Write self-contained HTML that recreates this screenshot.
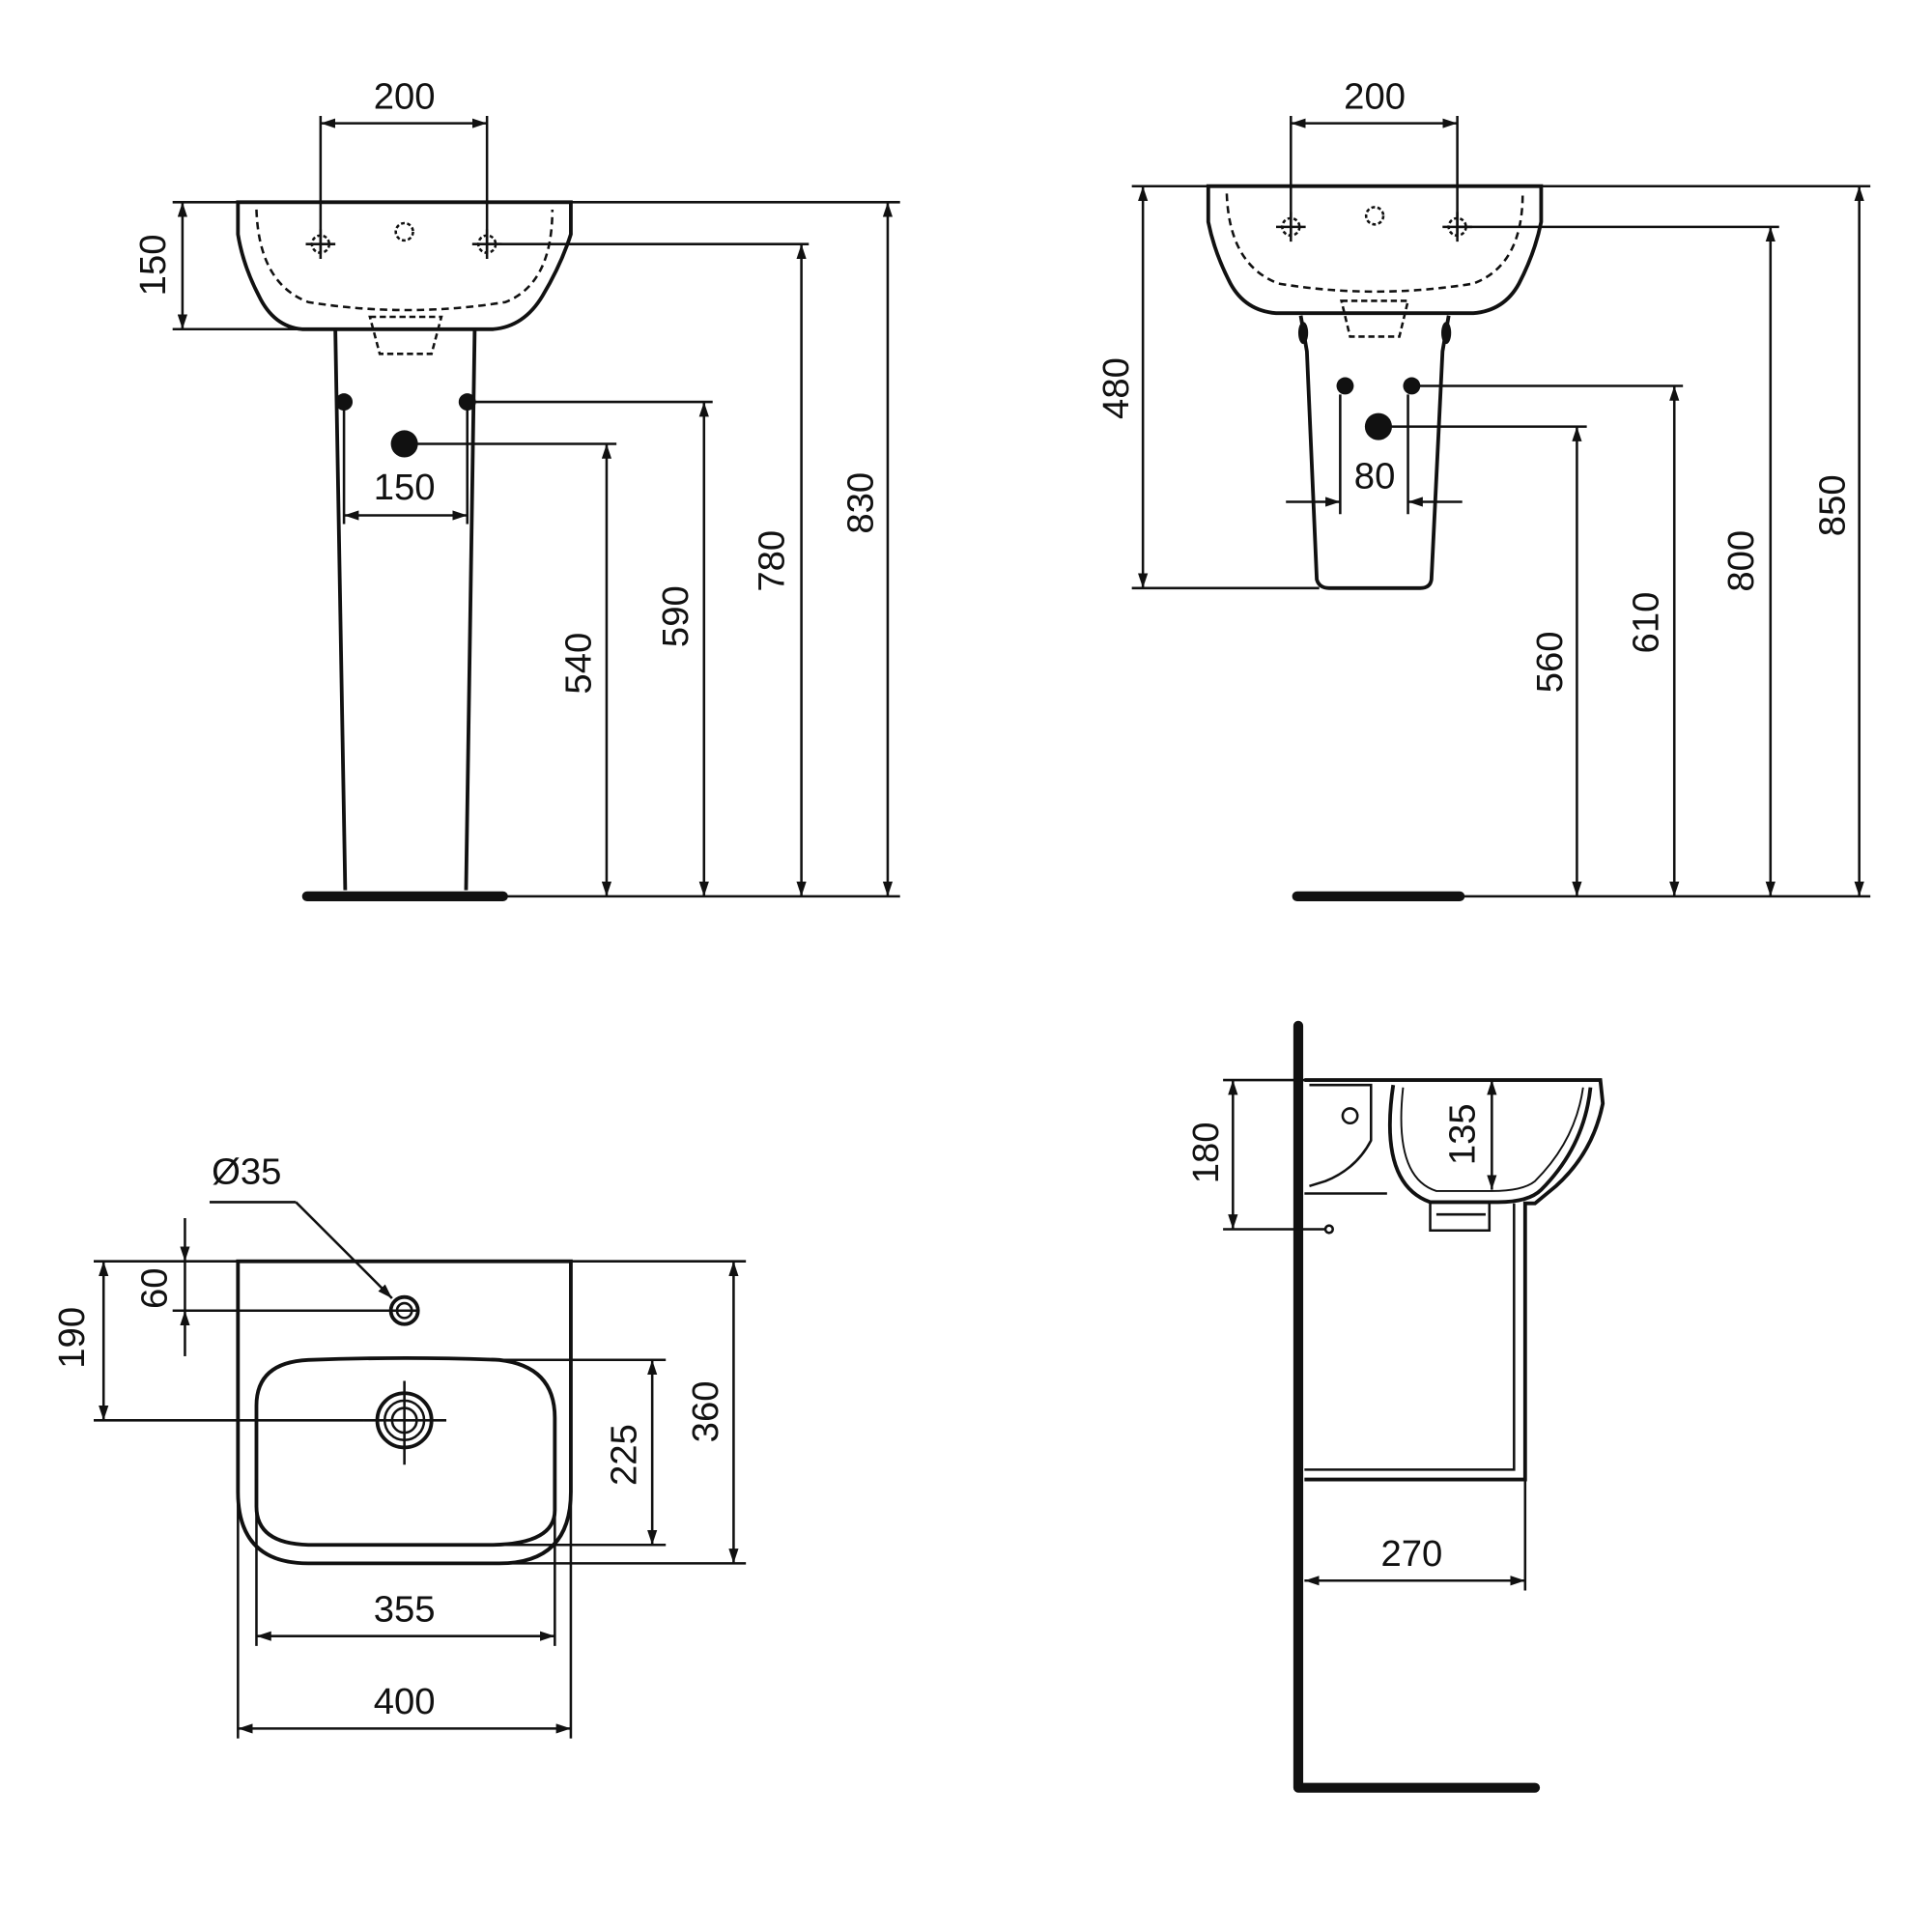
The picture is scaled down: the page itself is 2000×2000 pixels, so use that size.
<!DOCTYPE html>
<html><head><meta charset="utf-8"><style>
html,body{margin:0;padding:0;background:#fff}
svg{display:block}
text{font-family:"Liberation Sans",sans-serif;font-size:30px;fill:#111}
</style></head><body>
<svg width="2000" height="2000" viewBox="0 0 1567 1567" xmlns="http://www.w3.org/2000/svg">
<defs>
<marker id="a" viewBox="0 0 12 8" refX="12" refY="4" markerWidth="12" markerHeight="8" markerUnits="userSpaceOnUse" orient="auto-start-reverse"><path d="M0,0 L12,4 L0,8 Z" fill="#111"/></marker>
</defs>
<g fill="none" stroke="#111" stroke-width="2">
<!-- ===== TOP LEFT ===== -->
<path d="M193,164 L463,164 L463,190 Q455,215 440,240 Q425,265 400,267 L245,267 Q222,265 210,240 Q197,215 193,190 Z" stroke-width="3"/>
<path d="M208,170 Q210,230 250,245 Q330,258 410,245 Q448,230 448,170" stroke-dasharray="6,4"/>
<path d="M300,257 L358,257 L350,287 L308,287 Z" stroke-dasharray="5,3"/>
<circle cx="328" cy="188" r="7" stroke-dasharray="3,2"/>
<circle cx="260" cy="198" r="7" stroke-dasharray="3,2"/><path d="M248,198 H272 M260,186 V210"/>
<circle cx="395" cy="198" r="7" stroke-dasharray="3,2"/><path d="M383,198 H407 M395,186 V210"/>
<path d="M272,268 L280,722 M385,268 L378,722" stroke-width="3"/>
<line x1="249" y1="727" x2="408" y2="727" stroke-width="8" stroke-linecap="round"/>
<path d="M260,94 V205 M395,94 V205"/>
<line x1="260" y1="100" x2="395" y2="100" marker-start="url(#a)" marker-end="url(#a)"/>
<path d="M140,164 H193 M140,267 H250"/>
<line x1="148" y1="164" x2="148" y2="267" marker-start="url(#a)" marker-end="url(#a)"/>
<path d="M463,164 H730 M395,198 H656 M379,326 H578 M328,360 H500 M410,727 H730"/>
<line x1="720" y1="164" x2="720" y2="727" marker-start="url(#a)" marker-end="url(#a)"/>
<line x1="650" y1="198" x2="650" y2="727" marker-start="url(#a)" marker-end="url(#a)"/>
<line x1="571" y1="326" x2="571" y2="727" marker-start="url(#a)" marker-end="url(#a)"/>
<line x1="492" y1="360" x2="492" y2="727" marker-start="url(#a)" marker-end="url(#a)"/>
<line x1="279" y1="418" x2="379" y2="418" marker-start="url(#a)" marker-end="url(#a)"/>
<path d="M279,330 V425 M379,330 V425"/>

<!-- ===== TOP RIGHT ===== -->
<path d="M980,151 L1250,151 L1250,180 Q1245,205 1232,230 Q1220,252 1195,254 L1035,254 Q1010,252 998,230 Q985,205 980,180 Z" stroke-width="3"/>
<path d="M995,157 Q997,215 1037,230 Q1115,243 1195,230 Q1235,215 1235,157" stroke-dasharray="6,4"/>
<path d="M1088,244 L1142,244 L1135,273 L1095,273 Z" stroke-dasharray="5,3"/>
<circle cx="1115" cy="175" r="7" stroke-dasharray="3,2"/>
<circle cx="1047" cy="184" r="7" stroke-dasharray="3,2"/><path d="M1035,184 H1059 M1047,172 V196"/>
<circle cx="1182" cy="184" r="7" stroke-dasharray="3,2"/><path d="M1170,184 H1194 M1182,172 V196"/>
<path d="M1055,256 L1060,285 L1068,470 Q1070,477 1078,477 L1152,477 Q1160,477 1161,470 L1170,285 L1175,256" stroke-width="3"/>
<line x1="1052" y1="727" x2="1184" y2="727" stroke-width="8" stroke-linecap="round"/>
<path d="M1047,94 V190 M1182,94 V190"/>
<line x1="1047" y1="100" x2="1182" y2="100" marker-start="url(#a)" marker-end="url(#a)"/>
<path d="M918,151 H980 M1250,151 H1517 M918,477 H1070 M1182,184 H1443 M1145,313 H1365 M1118,346 H1287 M1187,727 H1517"/>
<line x1="927" y1="151" x2="927" y2="477" marker-start="url(#a)" marker-end="url(#a)"/>
<line x1="1508" y1="151" x2="1508" y2="727" marker-start="url(#a)" marker-end="url(#a)"/>
<line x1="1436" y1="184" x2="1436" y2="727" marker-start="url(#a)" marker-end="url(#a)"/>
<line x1="1358" y1="313" x2="1358" y2="727" marker-start="url(#a)" marker-end="url(#a)"/>
<line x1="1279" y1="346" x2="1279" y2="727" marker-start="url(#a)" marker-end="url(#a)"/>
<path d="M1087,320 V417 M1142,320 V417"/>
<line x1="1043" y1="407" x2="1087" y2="407" marker-end="url(#a)"/>
<line x1="1186" y1="407" x2="1142" y2="407" marker-end="url(#a)"/>

<!-- ===== BOTTOM LEFT ===== -->
<path d="M193,1023 L463,1023 L463,1210 Q463,1268 405,1268 L250,1268 Q193,1268 193,1210 Z" stroke-width="3"/>
<path d="M208,1140 Q208,1105 250,1103 Q330,1100 405,1103 Q450,1108 450,1150 L450,1225 Q450,1252 400,1253 L250,1253 Q208,1252 208,1222 Z" stroke-width="3"/>
<circle cx="328" cy="1063" r="11" stroke-width="3"/><circle cx="328" cy="1063" r="6"/>
<circle cx="328" cy="1152" r="22" stroke-width="3"/><circle cx="328" cy="1152" r="16" stroke-width="2"/><circle cx="328" cy="1152" r="10"/>
<path d="M295,1152 H362 M328,1120 V1188"/>
<path d="M170,975 H240"/>
<line x1="240" y1="975" x2="318" y2="1053" marker-end="url(#a)"/>
<path d="M76,1023 H605 M140,1063 H340 M76,1152 H295 M405,1103 H540 M400,1253 H540 M400,1268 H605"/>
<line x1="150" y1="988" x2="150" y2="1023" marker-end="url(#a)"/>
<line x1="150" y1="1100" x2="150" y2="1063" marker-end="url(#a)"/>
<line x1="150" y1="1023" x2="150" y2="1063"/>
<line x1="84" y1="1023" x2="84" y2="1152" marker-start="url(#a)" marker-end="url(#a)"/>
<line x1="529" y1="1103" x2="529" y2="1253" marker-start="url(#a)" marker-end="url(#a)"/>
<line x1="595" y1="1023" x2="595" y2="1268" marker-start="url(#a)" marker-end="url(#a)"/>
<path d="M208,1200 V1335 M450,1200 V1335 M193,1210 V1410 M463,1210 V1410"/>
<line x1="208" y1="1327" x2="450" y2="1327" marker-start="url(#a)" marker-end="url(#a)"/>
<line x1="193" y1="1402" x2="463" y2="1402" marker-start="url(#a)" marker-end="url(#a)"/>

<!-- ===== BOTTOM RIGHT ===== -->
<path d="M1053,832 V1450 H1245" stroke-width="8" stroke-linecap="round" stroke-linejoin="round"/>
<path d="M1058,876 L1298,876 L1300,895 Q1292,935 1262,962 L1245,976 L1237,976 L1237,1200 L1058,1200" stroke-width="3"/>
<path d="M1228,976 V1192 H1058" stroke-width="2"/>
<path d="M1130,880 Q1118,960 1160,975 L1215,975 Q1240,975 1250,965 Q1285,930 1290,882" stroke-width="3"/>
<path d="M1138,882 Q1130,955 1165,966 L1210,966 Q1235,966 1245,958 Q1278,925 1284,882" stroke-width="1.5"/>
<circle cx="1095" cy="905" r="6"/>
<path d="M1062,880 L1112,880 L1112,925 Q1100,948 1075,958 L1062,962 M1058,968 H1125" stroke-width="2"/>
<path d="M1160,975 L1160,998 L1208,998 L1208,975 M1165,985 H1205" stroke-width="2"/>
<path d="M992,876 H1060 M992,997 H1075"/>
<circle cx="1078" cy="997" r="3"/>
<line x1="1000" y1="876" x2="1000" y2="997" marker-start="url(#a)" marker-end="url(#a)"/>
<line x1="1210" y1="876" x2="1210" y2="965" marker-start="url(#a)" marker-end="url(#a)"/>
<path d="M1237,976 V1290"/>
<line x1="1058" y1="1282" x2="1237" y2="1282" marker-start="url(#a)" marker-end="url(#a)"/>
</g>
<g fill="#111">
<circle cx="279" cy="326" r="7"/><circle cx="379" cy="326" r="7"/><circle cx="328" cy="360" r="11"/>
<circle cx="1091" cy="313" r="7"/><circle cx="1145" cy="313" r="7"/><circle cx="1118" cy="346" r="11"/>
<ellipse cx="1057" cy="270" rx="4" ry="9"/><ellipse cx="1173" cy="270" rx="4" ry="9"/>
</g>
<g text-anchor="middle">
<text x="328" y="88">200</text>
<text x="1115" y="88">200</text>
<text x="328" y="405">150</text>
<text x="1115" y="396">80</text>
<text x="328" y="1315">355</text>
<text x="328" y="1390">400</text>
<text x="1145" y="1270">270</text>
<text x="200" y="960">Ø35</text>
<text transform="translate(134,215) rotate(-90)">150</text>
<text transform="translate(708,408) rotate(-90)">830</text>
<text transform="translate(636,455) rotate(-90)">780</text>
<text transform="translate(558,500) rotate(-90)">590</text>
<text transform="translate(479,538) rotate(-90)">540</text>
<text transform="translate(915,315) rotate(-90)">480</text>
<text transform="translate(1496,410) rotate(-90)">850</text>
<text transform="translate(1422,455) rotate(-90)">800</text>
<text transform="translate(1345,505) rotate(-90)">610</text>
<text transform="translate(1267,537) rotate(-90)">560</text>
<text transform="translate(135,1045) rotate(-90)">60</text>
<text transform="translate(68,1085) rotate(-90)">190</text>
<text transform="translate(516,1180) rotate(-90)">225</text>
<text transform="translate(582,1145) rotate(-90)">360</text>
<text transform="translate(988,935) rotate(-90)">180</text>
<text transform="translate(1196,920) rotate(-90)">135</text>
</g>
</svg>
</body></html>
